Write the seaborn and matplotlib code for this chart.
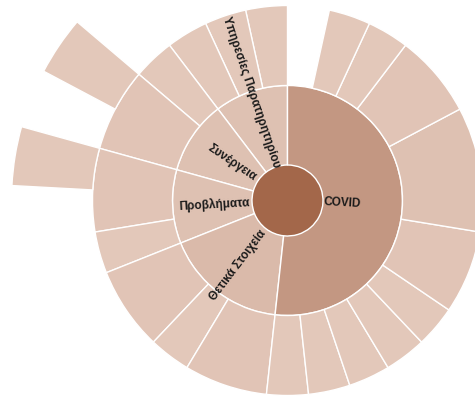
import numpy as np
import matplotlib
matplotlib.use("Agg")
import matplotlib.pyplot as plt
import matplotlib.colors as mcolors
import seaborn as sns

# top level categories, counter-clockwise from 12 o'clock
parents = ["Υπηρεσίες Παρατηρητηρίου", "Συνέργεια", "Προβλήματα",
           "Θετικά Στοιχεία", "COVID"]
parent_values = [3, 3, 3, 5, 15]

# second ring (leaves have no visible labels)
services_children = [1, 1, 1]
synergy_children = [1, 2]
problems_children = [2, 1]
positive_children = [2, 1, 2]
covid_children = [1, 1, 1, 1, 1, 2, 3, 2, 1, 1]

# third ring, one list per second-ring node
services_grand = [[], [], []]
synergy_grand = [[], [1]]
problems_grand = [[1], []]
positive_grand = [[], [], []]
covid_grand = [[] for _ in covid_children]

children = [services_children, synergy_children, problems_children,
            positive_children, covid_children]
grandchildren = [services_grand, synergy_grand, problems_grand,
                 positive_grand, covid_grand]

total = sum(parent_values)

# layout
rings = [0, 35.5, 115, 195, 276]
label_r = [114, 67, 73, 81, 55]

sns.set_theme(style="white")
plt.rcParams['font.family'] = ['Liberation Sans', 'DejaVu Sans']

cmap = sns.blend_palette(["#E5CBBE", "#A3674A"], as_cmap=True)
norm = mcolors.Normalize(0, total)

fig = plt.figure(figsize=(4.75, 3.96), dpi=100)
R = 280
cx, cy = 287.5, 396 - 200.5
ax = fig.add_axes([(cx - R) / 475, (cy - R) / 396, 2 * R / 475, 2 * R / 396],
                  projection='polar')
ax.set_theta_zero_location('N')
ax.set_theta_direction(1)
ax.set_ylim(0, R)
ax.set_axis_off()

unit = 2 * np.pi / total
edge = dict(edgecolor='white', linewidth=1.0)

# root
ax.bar(0, rings[1], width=2 * np.pi, bottom=0, align='edge',
       color=cmap(norm(total)), linewidth=0)

start = 0
for i, name in enumerate(parents):
    v = parent_values[i]
    ax.bar(start * unit, rings[2] - rings[1], width=v * unit, bottom=rings[1],
           align='edge', color=cmap(norm(v)), **edge)
    cstart = start
    for j, cv in enumerate(children[i]):
        ax.bar(cstart * unit, rings[3] - rings[2], width=cv * unit,
               bottom=rings[2], align='edge', color=cmap(norm(cv)), **edge)
        gstart = cstart
        for gv in grandchildren[i][j]:
            ax.bar(gstart * unit, rings[4] - rings[3], width=gv * unit,
                   bottom=rings[3], align='edge', color=cmap(norm(gv)), **edge)
            gstart += gv
        cstart += cv
    # radial label
    mid = (start + v / 2) * unit
    rot = (np.degrees(mid) + 90) % 360
    if 90 < rot < 270:
        rot -= 180
    elif rot >= 270:
        rot -= 360
    ax.text(mid, label_r[i], name, rotation=rot, rotation_mode='anchor',
            ha='center', va='center', fontsize=8.5, fontweight='bold',
            color='#1a1a1a')
    start += v

fig.savefig("out.png", dpi=100, facecolor='white')
